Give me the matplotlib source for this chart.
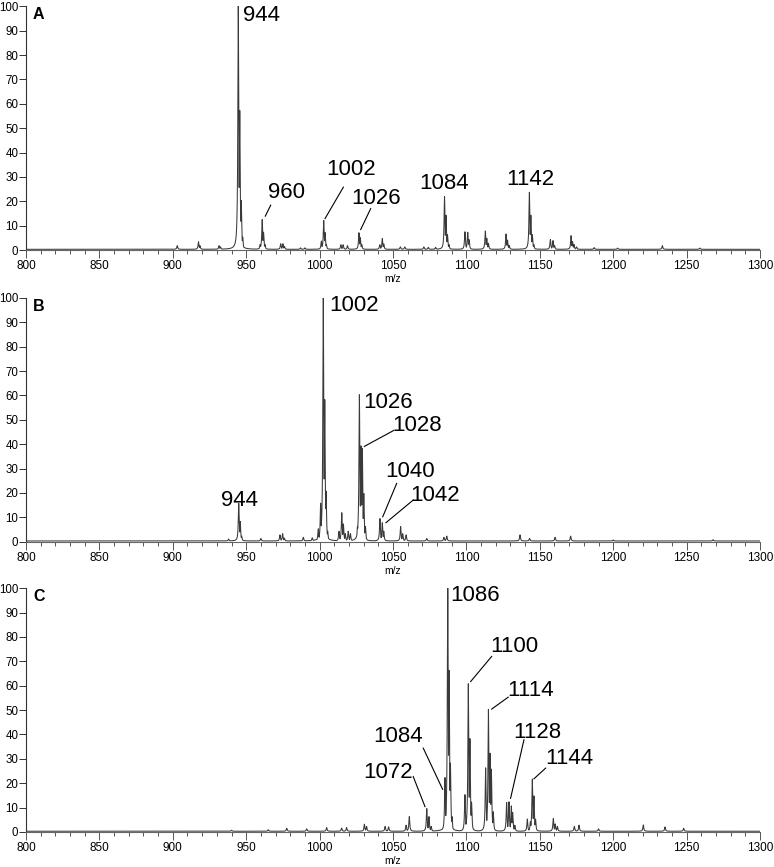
import numpy as np
import matplotlib
matplotlib.use("Agg")
import matplotlib.pyplot as plt
from matplotlib.ticker import MultipleLocator

plt.rcParams['font.family'] = ['Liberation Sans', 'DejaVu Sans']

# peak lists (m/z, relative intensity)
a_mz = [903, 917.5, 918.5, 931.5, 932.5, 943.5, 944.6, 945.6, 946.6, 947.6,
        959.5, 960.9, 961.8, 962.8, 973.5, 975, 976, 987, 990,
        1001.2, 1002.8, 1003.7, 1004.6, 1014.5, 1016, 1019,
        1026.8, 1027.7, 1028.7, 1041, 1042.7, 1043.7, 1055, 1058, 1071, 1074, 1079,
        1085.1, 1086.1, 1087.1, 1088.1, 1099, 1100.9, 1101.8,
        1112.9, 1113.9, 1115, 1127, 1128, 1129.2,
        1142.9, 1143.9, 1144.9, 1145.9, 1157.2, 1159, 1160,
        1171.3, 1172.3, 1173.3, 1175, 1187, 1203, 1233.5, 1259]
a_int = [1.5, 3.1, 1.5, 1.5, 1.0, 6, 100, 57, 20, 5,
         2, 12.2, 7, 2, 2.3, 2.3, 1.2, 0.6, 0.6,
         3.4, 11.8, 6.9, 2, 1.9, 1.9, 1.5,
         6.8, 4.8, 2, 1.9, 4.4, 2.2, 1.0, 1.0, 1.0, 0.8, 0.8,
         21.6, 14, 6, 2, 7.2, 7, 4,
         7.5, 4.5, 2.5, 6.3, 3.8, 1.6,
         23.4, 14, 6, 2, 4, 3.6, 1.6,
         5.6, 3.2, 2, 1, 0.7, 0.5, 1.5, 0.5]

b_mz = [938, 944.9, 945.9, 946.9, 960, 973, 974.8, 976, 988.9, 995,
        999.1, 1000.7, 1002.5, 1003.5, 1004.4, 1005.5,
        1013.2, 1015.1, 1016.2, 1017.5, 1019.5, 1021,
        1025.8, 1027.1, 1028.2, 1029.1, 1030.1, 1031.2,
        1041.1, 1042.7, 1043.7, 1055.2, 1056.6, 1058.9,
        1073, 1084.7, 1086.6, 1136.5, 1143, 1160.4, 1171, 1200, 1268]
b_int = [0.8, 15.4, 8, 2, 1, 2.5, 3, 1.2, 1.5, 1.3,
         5, 15.5, 100, 58, 20.4, 4,
         4, 11.6, 7, 3, 4, 3,
         6, 60, 39, 38, 19.5, 6,
         9.2, 7.5, 4, 5.9, 3, 2.5,
         1, 1.5, 2, 2.5, 1, 1.5, 2, 0.4, 0.5]

c_mz = [940, 965, 977.6, 991.2, 1004.8, 1015, 1018.4, 1030.5, 1032, 1044.6, 1047,
        1058.9, 1061.1, 1073, 1074.5, 1076,
        1085.4, 1087.3, 1088.2, 1089.1, 1090.2,
        1099, 1101.3, 1102.4, 1103.5,
        1113.1, 1115, 1116.1, 1117, 1118.3,
        1127.4, 1129, 1130.6, 1131.5, 1133,
        1141.5, 1143.6, 1144.9, 1146, 1147.1,
        1159.2, 1160.5, 1162, 1173.5, 1176.7, 1190, 1220.5, 1235.3, 1248]
c_int = [0.4, 0.6, 1.2, 1.0, 1.5, 1.3, 1.5, 2.9, 2, 2, 1.8,
         2.5, 6, 9.3, 6, 2,
         22, 100, 66, 28, 6,
         15, 60.5, 38, 12,
         26, 50, 32, 25.5, 8,
         11.8, 12.1, 10.4, 7.7, 2.5,
         5, 4, 21.4, 14.5, 5,
         5.2, 3, 2, 2, 2.5, 1, 2.6, 1.8, 1.2]

# peak labels: text, x, y, alignment, leader line (x0, y0, x1, y1)
a_labels = [("944", 947.8, 96, 'left', None),
            ("960", 964.9, 23.8, 'left', (963, 13.9, 966.7, 18.4)),
            ("1002", 1004.4, 33, 'left', (1003.7, 12.9, 1016.2, 25.8)),
            ("1026", 1021.9, 21.3, 'left', (1028, 8.4, 1034.8, 17)),
            ("1084", 1085.1, 27.2, 'center', None),
            ("1142", 1143.5, 28.8, 'center', None)]
b_labels = [("1002", 1006.6, 96.8, 'left', None),
            ("944", 945.5, 17, 'center', None),
            ("1026", 1029.8, 57.3, 'left', None),
            ("1028", 1049.8, 47.7, 'left', (1030.5, 39.1, 1050.7, 45.7)),
            ("1040", 1044.6, 28.6, 'left', (1043, 10.2, 1052.5, 23.9)),
            ("1042", 1061.6, 19.1, 'left', (1045.2, 7.8, 1063.8, 17.1))]
c_labels = [("1086", 1089.3, 96.9, 'left', None),
            ("1100", 1116.1, 76.1, 'left', (1102.9, 61.7, 1117.2, 72)),
            ("1114", 1128.1, 58, 'left', (1117.2, 50.4, 1128.5, 55.3)),
            ("1128", 1132, 40.8, 'left', (1130.1, 13.8, 1139.2, 37.8)),
            ("1144", 1153.5, 30.3, 'left', (1146, 21.8, 1154, 26.2)),
            ("1084", 1070.2, 39.1, 'right', (1070.6, 34.4, 1083.8, 17.5)),
            ("1072", 1063.8, 24.4, 'right', (1063.8, 22.7, 1071.8, 10.4))]

panels = [("A", a_mz, a_int, a_labels, 0.7116),
          ("B", b_mz, b_int, b_labels, 0.3752),
          ("C", c_mz, c_int, c_labels, 0.0404)]

fig = plt.figure(figsize=(7.74, 8.67), dpi=100)
x = np.arange(800, 1300, 0.02)
g = 0.35  # peak half width (profile shape)

for letter, mz, inten, labels, bottom in panels:
    ax = fig.add_axes([0.0336, bottom, 0.9483, 0.2812])
    y = np.zeros_like(x)
    for m, h in zip(mz, inten):
        y = np.maximum(y, h * g**2 / ((x - m)**2 + g**2))
    ax.plot(x, y + 0.3, color='#3a3a3a', lw=0.75)

    ax.set_xlim(800, 1300)
    ax.set_ylim(0, 100)
    ax.spines['top'].set_visible(False)
    ax.spines['right'].set_visible(False)
    ax.spines['left'].set_color('#333333')
    ax.spines['bottom'].set_color('#666666')
    ax.spines['left'].set_linewidth(0.8)
    ax.spines['bottom'].set_linewidth(0.8)
    ax.xaxis.set_major_locator(MultipleLocator(50))
    ax.xaxis.set_minor_locator(MultipleLocator(10))
    ax.yaxis.set_major_locator(MultipleLocator(10))
    ax.tick_params(axis='x', which='major', length=5.5, width=0.7, color='#555555',
                   labelsize=8.5, pad=2)
    ax.tick_params(axis='x', which='minor', length=3, width=0.7, color='#555555')
    ax.tick_params(axis='y', length=5, width=0.7, color='#333333', labelsize=8.3, pad=0.5)
    ax.set_xlabel('m/z', fontsize=7.5, labelpad=1)

    ax.text(804.8, 96.5, letter, fontsize=11.5, fontweight='bold', va='center', ha='left')

    for txt, tx, ty, ha, line in labels:
        ax.text(tx, ty, txt, fontsize=16, ha=ha, va='center')
        if line is not None:
            ax.plot([line[0], line[2]], [line[1], line[3]], color='black', lw=0.8)

fig.savefig('out.png', dpi=100)
